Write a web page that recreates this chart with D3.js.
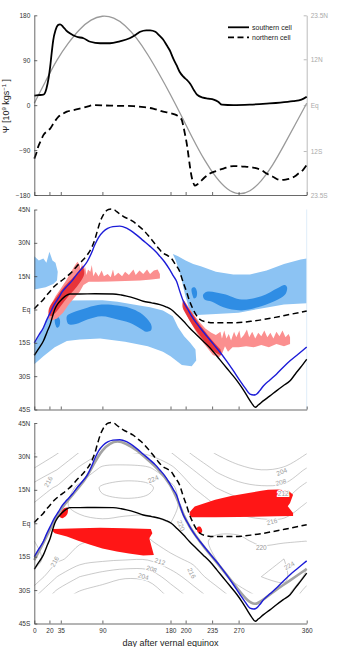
<!DOCTYPE html>
<html>
<head>
<meta charset="utf-8">
<script src="https://cdn.jsdelivr.net/npm/d3@7"></script>
<style>
  body { margin: 0; background: #fff; }
  svg { display: block; font-family: "Liberation Sans", Arial, sans-serif; }
</style>
</head>
<body>
<svg id="chart" width="338" height="647"></svg>
<script>
// ---- ticks ----
const dayTicks = [0, 20, 35, 90, 180, 200, 235, 270, 360];
const psiTicks = [180, 90, 0, -90, -180];
const psiTickLabels = ["180", "90", "0", "\u221290", "\u2212180"];
const declTicks = [23.5, 12, 0, -12, -23.5];
const declTickLabels = ["23.5N", "12N", "Eq", "12S", "23.5S"];
const latTicks = [45, 30, 15, 0, -15, -30, -45];
const latTickLabels = ["45N", "30N", "15N", "Eq", "15S", "30S", "45S"];

// ---- panel 1: cell strength [day, 10^9 kg/s] and solar declination [day, deg] ----
const southernCell = [[0,19],[5,20],[12,21],[16,33],[19,55],[21,77],[23,105],[25,130],[28,150],[31,160],[34,162],[38,157],[42,150],[47,144],[56,137],[65,134],[74,127],[87,124],[100,124],[113,128],[126,134],[135,142],[140,147],[148,150],[153,150],[160,147],[165,140],[170,132],[175,120],[179,110],[184,92],[188,80],[192,67],[197,57],[202,50],[206,43],[211,30],[215,21],[223,15],[230,13],[237,11],[243,7],[248,1],[263,0],[285,1],[307,3],[325,5],[342,8],[353,11],[360,17]];
const northernCell = [[0,-107],[3,-95],[5,-84],[9,-70],[12,-60],[17,-52],[21,-47],[26,-35],[32,-23],[38,-17],[43,-13],[52,-10],[60,-7],[70,-3],[78,0],[100,-1],[131,-2],[145,-4],[157,-7],[168,-12],[180,-16],[188,-20],[192,-24],[195,-30],[197,-42],[199,-57],[202,-82],[204,-104],[206,-126],[208,-144],[210,-155],[212,-161],[216,-158],[219,-154],[225,-145],[232,-137],[240,-132],[250,-127],[263,-122],[275,-123],[289,-125],[300,-130],[307,-137],[316,-144],[325,-150],[332,-149],[338,-147],[345,-142],[349,-137],[355,-130],[360,-120]];
const declination = [[0,0.5],[15,6.3],[30,12],[45,16.3],[60,20],[75,22.5],[90,23.5],[105,23],[120,21],[135,17.7],[150,13.3],[165,8.2],[180,2.8],[195,-3],[210,-9],[225,-14.5],[240,-19],[255,-22.2],[270,-23.5],[285,-22.7],[300,-20],[315,-15.8],[330,-10.5],[345,-5],[360,0.5]];

// ---- panels 2 and 3: latitudes [day, deg] ----
const blueLat = [[0,-15],[6,-11.5],[12,-8.2],[16,-5],[21,-1.5],[26,2],[32,5.2],[37,8],[43,10.4],[50,13],[56,15.7],[63,18.5],[70,21.6],[75,25],[80,29.1],[85,32.5],[91,35],[97,36.5],[104,37.3],[113,37.5],[122,36.6],[135,33.6],[144,31],[153,28.4],[160,26.2],[166,23.9],[172,21.5],[179,17.9],[184,15],[188,12.7],[192,8.5],[197,3.7],[203,0],[208,-3],[214,-6],[219,-8.2],[228,-12],[237,-15.7],[245,-19],[254,-23.1],[263,-27.5],[272,-32.1],[279,-35.5],[285,-38.1],[290,-38.5],[294,-38],[298,-36.5],[303,-34.3],[311,-31.8],[320,-29.1],[329,-26],[338,-23.1],[349,-20],[360,-16.9]];
const blackLat = [[0,-20.6],[6,-17.5],[12,-14.2],[17,-10],[21,-6.7],[24,-3.2],[27,0],[31,2.5],[36,4.5],[41,6],[47,7],[60,7],[80,7.1],[104,7],[115,6.5],[122,6],[133,5],[144,3.7],[155,3],[166,2.2],[174,1.2],[181,0],[189,-2.5],[197,-5.2],[205,-8.2],[214,-11.2],[223,-14.2],[232,-17.2],[241,-20.8],[250,-24.6],[259,-28.3],[268,-32.1],[275,-35.5],[281,-38.8],[287,-42],[292,-44],[296,-43],[303,-41],[311,-39],[320,-36.6],[329,-34.3],[338,-32.1],[345,-29],[352,-26],[360,-22.4]];
const dashedLat = [[0,0.3],[6,2.5],[12,4.5],[16,6.3],[21,8.2],[26,10.2],[32,12],[38,13.5],[43,14.9],[50,17],[56,19.4],[63,21.8],[70,24.6],[76,28],[80,31.5],[83,35],[87,39.5],[91,42.5],[94,44],[98,45],[102,45.2],[106,44.8],[109,44],[114,42.8],[118,41.8],[124,40.8],[131,39.5],[137,37.8],[144,35.8],[150,33.5],[157,30.6],[163,28],[170,25.4],[176,24.3],[181,23.1],[186,20.5],[192,17.2],[196,13],[201,8.2],[205,4],[210,0],[214,-2.5],[219,-4.5],[226,-5.5],[237,-6],[263,-6],[289,-5.2],[316,-3.7],[338,-2.2],[360,-0.7]];
const grayLat = [[0,-16.5],[8,-11.5],[16,-6],[24,-0.5],[32,4.5],[40,8.5],[50,12.5],[60,16.5],[70,21],[80,27.5],[90,33],[100,36],[110,37],[120,36],[135,33],[150,28.5],[165,24],[180,17.5],[190,10],[198,3],[205,-1.5],[215,-6.5],[225,-11],[240,-17],[255,-23.5],[270,-30],[282,-35],[292,-36.7],[300,-35],[315,-31],[330,-27.5],[345,-24],[360,-20.5]];

// ---- panel 2 shaded regions, outlines as [day, lat] ----
const lightBlueNorthA = [[0,24],[6,22],[12,23],[16,21],[20,26],[24,22],[28,21],[31,17],[30,13],[25,11.5],[15,10],[0,9]];
const lightBlueSouth = [[0,-15.5],[8,-11],[16,-5],[22,-1],[28,2],[35,3.5],[45,4],[90,4.2],[110,3.5],[131,2.2],[153,1],[170,-0.5],[183,-3],[190,-8],[198,-12],[206,-15],[213,-18],[214,-23],[208,-25.5],[195,-25],[180,-21],[170,-19],[150,-16.5],[120,-14.5],[87,-13],[60,-13.5],[43,-14.2],[27,-17],[12,-21],[0,-24.6]];
const lightBlueNorthB = [[183,25],[190,24],[200,22],[210,20.5],[220,19.5],[240,17],[263,15.7],[285,15.8],[307,17.5],[330,20.5],[352,22.5],[360,23],[360,2.8],[330,2.2],[300,0.5],[270,-1.5],[240,-2],[215,-2.5],[208,-2],[204,1],[199,7],[195,13],[191,18],[187,22]];
const midBlueSouth = [[43,-3],[50,-1.5],[70,0.8],[89,2.2],[110,1.8],[126,0.7],[140,-1.5],[151,-5],[155,-7.5],[154,-9.5],[148,-10],[140,-8.5],[126,-6],[110,-4.5],[89,-3],[70,-4.5],[55,-6.5],[45,-6.5]];
const midBlueSouthDot = [[27,-4],[29,-3],[32,-3.5],[34,-5],[33,-7.5],[30,-8.2],[28,-7]];
const midBlueNorth = [[223,6.5],[228,8],[250,7],[274,4.5],[300,6],[322,9.7],[331,11],[334,10],[332,7],[322,4.5],[300,1.5],[274,-0.4],[250,1],[235,3.5],[225,4.5]];
const midBlueNorthDot = [[208,9.5],[212,10],[215,8],[214,5.5],[211,5],[209,6.5]];
const pinkNorth = [[18,-2],[22,2],[28,6],[35,9.5],[42,13],[48,16.5],[53,19.5],[57,21.5],[60,20],[61.5,16.5],[63,21],[65,17],[67,19.5],[69,15.5],[71,18],[74,17],[76,20],[78,15],[81,17],[85,14.8],[89,17.5],[92,15],[97,16],[101,14.5],[104,18],[106,15],[111,16.5],[116,15],[120,17],[125,15.5],[131,18],[134,15.5],[139,17.5],[144,16],[149,18],[153,16],[158,17.5],[163,18],[166,16],[166,14],[155,13.5],[140,13],[120,12.8],[100,12.6],[85,12.5],[72,12.5],[65,11],[60,8],[52,5],[45,2],[38,-1.5],[30,-4],[23,-5],[19,-4]];
const redNorth = [[20,1],[30,6],[40,10.5],[50,14],[58,17],[64,19.5],[66,16],[60,12],[52,8.5],[44,5.5],[36,2],[28,-1.5],[22,-3],[19,-1.5]];
const pinkSouth = [[196,5],[202,2],[210,-2],[218,-5.5],[226,-8.5],[234,-10.5],[240,-11.5],[246,-10],[248,-13],[251,-9.5],[254,-13],[257,-11],[260,-14],[264,-10],[267,-12.5],[271,-9.5],[273,-13],[277,-11.5],[281,-9],[284,-12.5],[288,-10],[292,-13],[296,-10.5],[300,-12],[304,-9.5],[308,-12.5],[312,-10.5],[316,-13],[320,-10],[324,-12],[328,-9.5],[332,-12.5],[336,-11],[338,-12.5],[338,-15.5],[330,-16.5],[320,-15.5],[310,-17],[300,-16],[290,-17],[280,-16.5],[270,-17],[262,-17],[256,-19],[252,-16.5],[248,-20],[244,-21.5],[236,-20.5],[228,-17],[220,-13.5],[212,-9],[204,-4],[198,0]];
const redSouth = [[197,4],[203,1],[210,-2.5],[218,-6.5],[226,-10],[234,-13.5],[242,-16.5],[246,-18],[247,-20.5],[240,-19.5],[232,-17],[224,-14],[216,-10.5],[208,-6.5],[201,-2.5],[196,1]];

// ---- panel 3: temperature field [K] on a day x latitude grid ----
const gridDays = [-30, 0, 30, 60, 90, 120, 150, 180, 210, 240, 270, 300, 330, 360, 390];
const gridLats = [40, 32, 24, 16, 8, 0, -8, -16, -24, -32, -40];
const tempGrid = [
  [199, 201.5, 204.5, 209, 213.5, 217, 219.5, 224, 225, 222, 218],
  [200, 203.5, 208.5, 213.5, 216.5, 218.5, 220, 221.5, 219, 213, 208],
  [204, 207.5, 212, 216.5, 219, 218.5, 218, 217, 212, 206.5, 202],
  [208, 212, 217, 221, 221, 219, 216.5, 214, 208, 203, 200],
  [212, 216, 221, 224.5, 223, 219, 215.5, 213, 206, 201.5, 199],
  [212, 216, 221.5, 225.5, 223, 218, 215, 212.5, 204.5, 200, 198],
  [211, 215, 221, 225, 222.5, 218, 215.5, 212.5, 205, 201, 198],
  [208, 212, 217.5, 221, 221, 220, 218, 215, 210, 205, 202],
  [204, 207, 212, 216, 218, 219, 219, 217, 214, 210, 206],
  [201, 203.5, 207.5, 212, 216, 219, 220.5, 220, 218, 214, 210],
  [199, 201.5, 205, 209.5, 214, 218, 221, 222.5, 222, 218, 214],
  [198, 200.5, 204, 208.5, 213, 217, 219, 223, 224, 221, 217],
  [199, 201.5, 204.5, 209, 213.5, 217, 219.5, 224, 225, 222, 218],
  [200, 203.5, 208.5, 213.5, 216.5, 218.5, 220, 221.5, 219, 213, 208],
  [204, 207.5, 212, 216.5, 219, 218.5, 218, 217, 212, 206.5, 202]
];
const tempLevels = [200, 204, 208, 212, 216, 220, 224];
const contourLabels = [[18.5,18.6,"216"],[157,19.8,"224"],[327,23.1,"204"],[326,18.4,"208"],[329,13.4,"212"],[314,0.7,"216"],[300,-11.2,"220"],[337,-19,"224"],[194,-1,"220"],[208,-22.4,"216"],[166,-17.2,"212"],[155,-20.5,"208"],[144,-23.9,"204"],[27,-17.2,"216"]];
const redSouth3 = [[25,-2.6],[60,-2.3],[87,-2],[120,-2.2],[154,-2.6],[156,-4.5],[152,-6.7],[155,-10.5],[158,-14.2],[144,-14.5],[125,-13.6],[109,-12.7],[90,-11.3],[74,-9.7],[58,-7.8],[43,-6],[33,-5],[27,-4.5],[24,-3.5]];
const redSouth3Bit = [[33,3],[36,5.5],[40,6.8],[44,7],[44,4.5],[41,3],[37,2.3]];
const redNorth3 = [[206,5.3],[212,7.5],[225,9],[239,10.6],[260,12.2],[283,13.6],[300,14.6],[309,15],[322,15.2],[336,14.6],[342,12.8],[338,9.1],[335,7.6],[342,4.6],[342,3.3],[320,3.1],[305,3],[270,2.8],[239,2.7],[208,2.7],[205,3.8]];
const redNorth3Bit = [[215,-2],[219,-1.5],[222,-3.5],[220,-4.5],[216,-4]];

// ---- scales ----
const svg = d3.select("#chart");
const x = d3.scaleLinear().domain([0, 360]).range([34.3, 306.7]);
const yPsi = d3.scaleLinear().domain([-180, 180]).range([195, 15.3]);
const yDecl = d3.scaleLinear().domain([-23.5, 23.5]).range([195, 15.3]);
const yLat2 = d3.scaleLinear().domain([-45, 45]).range([409.5, 209.5]);
const yLat3 = d3.scaleLinear().domain([-45, 45]).range([623.5, 423]);

const curveLine = ys => d3.line().x(d => x(d[0])).y(d => ys(d[1])).curve(d3.curveMonotoneX);
const shape = (ys, curve) => d3.line().x(d => x(d[0])).y(d => ys(d[1])).curve(curve || d3.curveLinearClosed);

function styleAxis(g, color) {
  g.attr("font-family", null).attr("font-size", 6.5);
  g.select(".domain").attr("stroke", color).attr("stroke-width", 0.8);
  g.selectAll(".tick line").attr("stroke", color).attr("stroke-width", 0.8);
  g.selectAll(".tick text").attr("fill", color === "#444" ? "#333" : color);
}

function leftAxis(ys, values, labels) {
  svg.append("g").attr("transform", `translate(${x(0)},0)`)
    .call(d3.axisLeft(ys).tickValues(values).tickFormat((d, i) => labels[i])
      .tickSize(-3).tickSizeOuter(0).tickPadding(4))
    .call(g => styleAxis(g, "#444"));
}

function bottomAxis(yPos, withLabels) {
  svg.append("g").attr("transform", `translate(0,${yPos})`)
    .call(d3.axisBottom(x).tickValues(dayTicks).tickFormat(withLabels ? d3.format("d") : "")
      .tickSize(-3).tickSizeOuter(0).tickPadding(5))
    .call(g => styleAxis(g, "#444"));
}

// ================= panel 1 =================
svg.append("g").attr("transform", `translate(${x(360)},0)`)
  .call(d3.axisRight(yDecl).tickValues(declTicks).tickFormat((d, i) => declTickLabels[i])
    .tickSize(-3).tickSizeOuter(0).tickPadding(4))
  .call(g => styleAxis(g, "#aaa"));

svg.append("path").datum(declination)
  .attr("d", d3.line().x(d => x(d[0])).y(d => yDecl(d[1])).curve(d3.curveBasis))
  .attr("fill", "none").attr("stroke", "#9a9a9a").attr("stroke-width", 1.3);

svg.append("path").datum(southernCell).attr("d", curveLine(yPsi))
  .attr("fill", "none").attr("stroke", "#000").attr("stroke-width", 1.8);
svg.append("path").datum(northernCell).attr("d", curveLine(yPsi))
  .attr("fill", "none").attr("stroke", "#000").attr("stroke-width", 1.8)
  .attr("stroke-dasharray", "7,4");

leftAxis(yPsi, psiTicks, psiTickLabels);
bottomAxis(yPsi(-180), false);

svg.append("text").attr("transform", "translate(8.5,106) rotate(-90)")
  .attr("text-anchor", "middle").attr("font-size", 9).attr("fill", "#222")
  .call(t => {
    t.append("tspan").text("\u03A8 [10");
    t.append("tspan").attr("dy", -3).attr("font-size", 6).text("9");
    t.append("tspan").attr("dy", 3).text(" kgs");
    t.append("tspan").attr("dy", -3).attr("font-size", 6).text("\u22121");
    t.append("tspan").attr("dy", 3).text(" ]");
  });

const legend = svg.append("g");
[["southern cell", null, 27.3], ["northern cell", "6,3.5", 37.3]].forEach(([label, dash, ly]) => {
  legend.append("line").attr("x1", 228).attr("x2", 249).attr("y1", ly).attr("y2", ly)
    .attr("stroke", "#000").attr("stroke-width", 1.8).attr("stroke-dasharray", dash);
  legend.append("text").attr("x", 252).attr("y", ly + 2.4).attr("font-size", 7).attr("fill", "#222").text(label);
});

// ================= panel 2 =================
const p2 = svg.append("g");
const addShape = (g, pts, ys, fill, curve) =>
  g.append("path").datum(pts).attr("d", shape(ys, curve)).attr("fill", fill).attr("stroke", "none");

addShape(p2, lightBlueNorthA, yLat2, "#8cc3f3");
addShape(p2, lightBlueSouth, yLat2, "#8cc3f3");
addShape(p2, lightBlueNorthB, yLat2, "#8cc3f3");
addShape(p2, midBlueSouth, yLat2, "#2f8de4", d3.curveCatmullRomClosed);
addShape(p2, midBlueSouthDot, yLat2, "#2f8de4", d3.curveCatmullRomClosed);
addShape(p2, midBlueNorth, yLat2, "#2f8de4", d3.curveCatmullRomClosed);
addShape(p2, midBlueNorthDot, yLat2, "#2f8de4", d3.curveCatmullRomClosed);
addShape(p2, pinkNorth, yLat2, "#fb8f8f");
addShape(p2, pinkSouth, yLat2, "#fb8f8f");
addShape(p2, redNorth, yLat2, "#e3242b", d3.curveCatmullRomClosed).attr("opacity", 0.85);
addShape(p2, redSouth, yLat2, "#e3242b", d3.curveCatmullRomClosed).attr("opacity", 0.85);

p2.append("line").attr("x1", x(360)).attr("x2", x(360)).attr("y1", yLat2(45)).attr("y2", yLat2(-45))
  .attr("stroke", "#d6e7f6").attr("stroke-width", 0.8);

p2.append("path").datum(dashedLat).attr("d", curveLine(yLat2))
  .attr("fill", "none").attr("stroke", "#000").attr("stroke-width", 1.5).attr("stroke-dasharray", "6,3.5");
p2.append("path").datum(blackLat).attr("d", curveLine(yLat2))
  .attr("fill", "none").attr("stroke", "#000").attr("stroke-width", 1.4);
p2.append("path").datum(blueLat).attr("d", curveLine(yLat2))
  .attr("fill", "none").attr("stroke", "#1c1cd8").attr("stroke-width", 1.4);

leftAxis(yLat2, latTicks, latTickLabels);
bottomAxis(yLat2(-45), false);

// ================= panel 3 =================
const p3 = svg.append("g");
svg.append("clipPath").attr("id", "clip3").append("rect")
  .attr("x", x(0)).attr("width", x(360) - x(0))
  .attr("y", yLat3(31.5)).attr("height", yLat3(-31.5) - yLat3(31.5));

const nx = gridDays.length, ny = gridLats.length;
const flat = [];
for (let j = 0; j < ny; j++) for (let i = 0; i < nx; i++) flat.push(tempGrid[i][j]);
const dayStep = gridDays[1] - gridDays[0], latStep = gridLats[0] - gridLats[1];
const gridToDay = c => gridDays[0] + (c - 0.5) * dayStep;
const gridToLat = c => gridLats[0] - (c - 0.5) * latStep;
const contours = d3.contours().size([nx, ny]).thresholds(tempLevels)(flat);
const ringLine = d3.line().x(p => x(gridToDay(p[0]))).y(p => yLat3(gridToLat(p[1])))
  .curve(d3.curveCatmullRomClosed);

const cg = p3.append("g").attr("clip-path", "url(#clip3)");
contours.forEach(c => {
  c.coordinates.forEach(poly => poly.forEach(ring => {
    cg.append("path").attr("d", ringLine(ring.slice(0, -1)))
      .attr("fill", "none").attr("stroke", "#a6a6a6").attr("stroke-width", 0.6);
  }));
});

addShape(p3, redSouth3, yLat3, "#ff1616");
addShape(p3, redSouth3Bit, yLat3, "#ff1616", d3.curveCatmullRomClosed);
addShape(p3, redNorth3, yLat3, "#ff1616");
addShape(p3, redNorth3Bit, yLat3, "#ff1616", d3.curveCatmullRomClosed);

const labelAngles = [-62, -22, -22, -15, 0, -15, 0, -30, 70, 65, 18, 18, 15, -60];
p3.selectAll("text.clabel").data(contourLabels).join("text")
  .attr("class", "clabel")
  .attr("transform", (d, i) => `translate(${x(d[0])},${yLat3(d[1])}) rotate(${labelAngles[i]})`)
  .attr("text-anchor", "middle").attr("dy", "0.35em")
  .attr("font-size", 6.5).attr("fill", "#9a9a9a")
  .attr("stroke", "#fff").attr("stroke-width", 2.2).attr("paint-order", "stroke")
  .text(d => d[2]);

p3.append("path").datum(grayLat).attr("d", d3.line().x(d => x(d[0])).y(d => yLat3(d[1])).curve(d3.curveBasis))
  .attr("fill", "none").attr("stroke", "#a3a3a3").attr("stroke-width", 2.6);
p3.append("path").datum(dashedLat).attr("d", curveLine(yLat3))
  .attr("fill", "none").attr("stroke", "#000").attr("stroke-width", 1.5).attr("stroke-dasharray", "6,3.5");
p3.append("path").datum(blackLat).attr("d", curveLine(yLat3))
  .attr("fill", "none").attr("stroke", "#000").attr("stroke-width", 1.4);
p3.append("path").datum(blueLat).attr("d", curveLine(yLat3))
  .attr("fill", "none").attr("stroke", "#1c1cd8").attr("stroke-width", 1.4);

leftAxis(yLat3, latTicks, latTickLabels);
bottomAxis(yLat3(-45), true);

svg.append("text").attr("x", (x(0) + x(360)) / 2).attr("y", 646)
  .attr("text-anchor", "middle").attr("font-size", 9).attr("fill", "#222")
  .text("day after vernal equinox");
</script>
</body>
</html>
